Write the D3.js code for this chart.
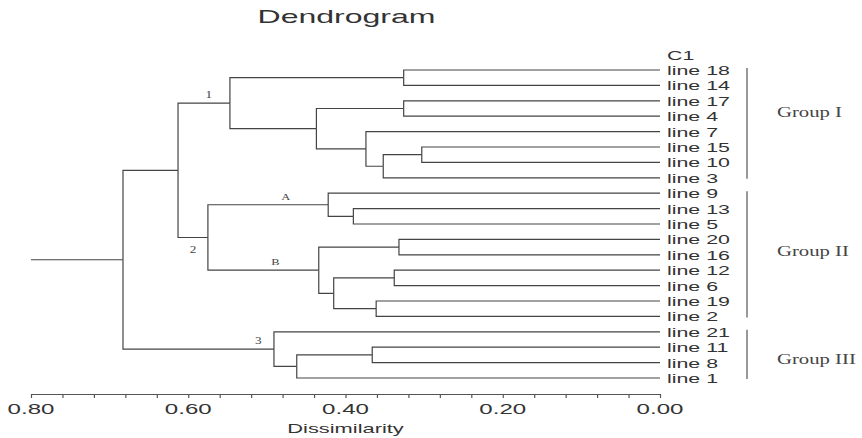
<!DOCTYPE html>
<meta charset="utf-8">
<style>
    body {
        margin: 0;
        background: #fff;
    }
    svg {
        display: block;
    }
    .sans {
        font-family: "Liberation Sans", Arial, sans-serif;
        fill: #333;
    }
    .serif {
        font-family: "Liberation Serif", "Times New Roman", serif;
        fill: #444;
    }
    .link {
        fill: none;
        stroke: #444;
        stroke-width: 1.2;
    }
    .axis path,
    .axis line {
        fill: none;
        stroke: #555;
        stroke-width: 1.2;
    }
</style>
<body>
<script src="https://cdn.jsdelivr.net/npm/d3@7"></script>
<script>
    // leaf order top to bottom (C1 is only a label, no branch)
    const topLabel = "C1";
    const leaves = ["line 18", "line 14", "line 17", "line 4", "line 7", "line 15", "line 10", "line 3",
        "line 9", "line 13", "line 5", "line 20", "line 16", "line 12", "line 6", "line 19", "line 2",
        "line 21", "line 11", "line 8", "line 1"];

    // [upper child, lower child, dissimilarity, node name]
    const merges = [
        ["line 18", "line 14", 0.326, "a"],
        ["line 17", "line 4", 0.326, "b"],
        ["line 15", "line 10", 0.303, "c"],
        ["c", "line 3", 0.352, "d"],
        ["line 7", "d", 0.374, "e"],
        ["b", "e", 0.437, "f"],
        ["a", "f", 0.547, "1"],
        ["line 13", "line 5", 0.390, "g"],
        ["line 9", "g", 0.422, "A"],
        ["line 20", "line 16", 0.332, "h"],
        ["line 12", "line 6", 0.338, "i"],
        ["line 19", "line 2", 0.361, "j"],
        ["i", "j", 0.415, "k"],
        ["h", "k", 0.434, "B"],
        ["A", "B", 0.575, "2"],
        ["1", "2", 0.613, "m"],
        ["line 11", "line 8", 0.366, "n"],
        ["n", "line 1", 0.462, "o"],
        ["line 21", "o", 0.491, "3"],
        ["m", "3", 0.683, "root"]
    ];

    // branch labels: [node, text, where along the axis, side]
    const nodeLabels = [
        ["1", "1", 0.574, "above"],
        ["2", "2", 0.594, "below"],
        ["A", "A", 0.476, "above"],
        ["B", "B", 0.489, "above"],
        ["3", "3", 0.511, "above"]
    ];

    const groups = [
        {name: "Group I", first: "line 18", last: "line 3", near: "line 4"},
        {name: "Group II", first: "line 9", last: "line 2", near: "line 16"},
        {name: "Group III", first: "line 21", last: "line 1", near: "line 8"}
    ];

    const tickLabels = ["0.80", "0.60", "0.40", "0.20", "0.00"];
    const minorStep = 0.04;

    const width = 862;
    const height = 438;

    const svg = d3.select('body')
        .append('svg')
        .attr('width', width)
        .attr('height', height);

    const x = d3.scaleLinear().domain([0.8, 0]).range([31, 660]);
    const y = d3.scalePoint().domain([topLabel, ...leaves]).range([54.6, 378]);

    // text in the scan is stretched sideways, so squeeze it in with a scale
    function stretchText(g, tx, ty, sx) {
        return g.append("g")
            .attr("transform", "translate(" + tx + "," + ty + ") scale(" + sx + ",1)")
            .append("text");
    }

    // build the tree
    const byName = {};
    leaves.forEach(n => { byName[n] = {name: n, h: 0}; });
    merges.forEach(([a, b, h, name]) => {
        byName[name] = {name: name, h: h, children: [byName[a], byName[b]]};
    });
    const root = d3.hierarchy(byName[merges[merges.length - 1][3]]);
    root.eachAfter(n => {
        n.y = n.children ? d3.mean(n.children, c => c.y) : y(n.data.name);
    });

    const tree = svg.append("g").attr("class", "tree");

    tree.selectAll("path.link")
        .data(root.descendants().filter(d => d.parent))
        .join("path")
        .attr("class", "link")
        .attr("d", d => "M" + x(d.parent.data.h) + "," + d.parent.y +
            "V" + d.y + "H" + x(d.data.h));

    // stub out of the root
    tree.append("path")
        .attr("class", "link")
        .attr("d", "M" + x(0.8) + "," + root.y + "H" + x(root.data.h));

    // leaf labels
    const labels = svg.append("g");
    [topLabel, ...leaves].forEach(n => {
        stretchText(labels, 667, y(n) + 5, 1.78)
            .attr("class", "sans")
            .style("font-size", "12px")
            .text(n);
    });

    // branch labels
    nodeLabels.forEach(([key, txt, pos, side]) => {
        const node = root.find(d => d.data.name === key);
        const letter = /[A-Z]/.test(txt);
        stretchText(tree, x(pos), node.y + (side === "above" ? -5 : 16), letter ? 1.4 : 1.2)
            .attr("class", "serif")
            .attr("text-anchor", "middle")
            .style("font-size", letter ? "9px" : "11px")
            .text(txt);
    });

    // group brackets
    const grp = svg.append("g");
    groups.forEach(gr => {
        grp.append("line")
            .attr("x1", 747).attr("x2", 747)
            .attr("y1", y(gr.first) - 2)
            .attr("y2", y(gr.last) + 1)
            .style("stroke", "#555")
            .style("stroke-width", 1.2);
        stretchText(grp, 777, y(gr.near) + 1, 1.48)
            .attr("class", "serif")
            .style("font-size", "14px")
            .text(gr.name);
    });

    // axis
    const axis = d3.axisBottom(x)
        .tickValues(d3.range(0, 21).map(i => i * minorStep))
        .tickFormat("")
        .tickSize(4)
        .tickSizeOuter(0);

    svg.append("g")
        .attr("class", "axis")
        .attr("transform", "translate(0,394)")
        .call(axis);

    const axisText = svg.append("g");
    tickLabels.forEach(t => {
        stretchText(axisText, x(+t), 414, 1.72)
            .attr("class", "sans")
            .attr("text-anchor", "middle")
            .style("font-size", "14px")
            .text(t);
    });

    stretchText(axisText, x(0.4), 433, 1.68)
        .attr("class", "sans")
        .attr("text-anchor", "middle")
        .style("font-size", "13px")
        .text("Dissimilarity");

    // title
    stretchText(svg, x(0.4) + 1, 23, 1.78)
        .attr("class", "sans")
        .attr("text-anchor", "middle")
        .style("font-size", "18px")
        .text("Dendrogram");
</script>
</body>
